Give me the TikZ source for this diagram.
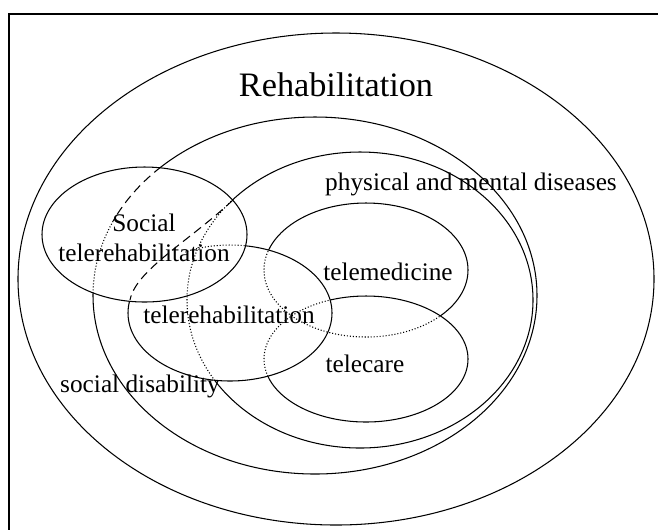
\documentclass[tikz,border=0pt]{standalone}
\usepackage{fontspec}
\setmainfont{Liberation Serif}
\usetikzlibrary{calc}

% the outlines (centre, x and y radius, in pixels)
\newcommand{\pathRehab}{(336,279) ellipse (318 and 246)}
\newcommand{\pathSocDis}{(315,295.5) ellipse (222 and 178.5)}
\newcommand{\pathPhys}{(360,300) ellipse (173 and 148)}
\newcommand{\pathSocTR}{(144.5,234.5) ellipse (102.5 and 67.5)}
\newcommand{\pathTR}{(230,313) ellipse (102 and 68)}
\newcommand{\pathTMed}{(366,270) ellipse (102 and 67)}
\newcommand{\pathTCare}{(366,359) ellipse (102 and 63)}
\newcommand{\pathAll}{(-10,-10) rectangle (670,540)}

\begin{document}
\begin{tikzpicture}[x=0.02cm,y=-0.02cm,line width=0.6pt,
        hidden/.style={dash pattern=on 0.6pt off 1.1pt},
        hiddash/.style={dash pattern=on 5pt off 3pt},
        txt/.style={font=\fontsize{14.4}{17}\selectfont,inner sep=0pt}]
        \useasboundingbox (0,0) rectangle (658,529);
        %frame
        \draw[line width=0.9pt] (9,14) rectangle (720,600);

        %outer and social telerehabilitation
        \draw \pathRehab;
        \draw \pathSocTR;

        %social disability
        \begin{scope}[even odd rule]
            \clip \pathAll \pathSocTR;
            \draw \pathSocDis;
        \end{scope}
        \begin{scope}
            \clip \pathSocTR;
            \clip (0,0) rectangle (658,220);
            \draw[hiddash] \pathSocDis;
        \end{scope}
        \begin{scope}
            \clip \pathSocTR;
            \clip (0,220) rectangle (658,529);
            \draw[hidden] \pathSocDis;
        \end{scope}

        %physical and mental diseases
        \begin{scope}[even odd rule]
            \clip \pathAll \pathSocTR;
            \clip \pathAll \pathTR;
            \draw \pathPhys;
        \end{scope}
        \begin{scope}
            \clip \pathSocTR;
            \draw[hidden] \pathPhys;
        \end{scope}
        \begin{scope}[even odd rule]
            \clip \pathAll \pathSocTR;
            \clip \pathTR;
            \draw[hidden] \pathPhys;
        \end{scope}
        \coordinate (physL) at (233,200);
        \coordinate (trL) at (130,300);
        \draw[hiddash] (physL) .. controls (188,242) and (136,270) .. (trL);

        %telerehabilitation
        \begin{scope}[even odd rule]
            \clip \pathAll \pathSocTR;
            \draw \pathTR;
        \end{scope}
        \begin{scope}
            \clip \pathSocTR;
            \clip (185,0) rectangle (658,529);
            \draw[hidden] \pathTR;
        \end{scope}

        %telecare
        \begin{scope}[even odd rule]
            \clip \pathAll \pathTR;
            \draw \pathTCare;
        \end{scope}
        \begin{scope}
            \clip \pathTR;
            \draw[hidden] \pathTCare;
        \end{scope}

        %telemedicine
        \begin{scope}[even odd rule]
            \clip \pathAll \pathTR;
            \clip \pathAll \pathTCare;
            \draw \pathTMed;
        \end{scope}
        \begin{scope}
            \clip \pathTR;
            \draw[hidden] \pathTMed;
        \end{scope}
        \begin{scope}[even odd rule]
            \clip \pathAll \pathTR;
            \clip \pathTCare;
            \draw[hidden] \pathTMed;
        \end{scope}

        %labels
        \node[txt,font=\fontsize{19.5}{23}\selectfont] (rehab) at (336,85) {Rehabilitation};
        \node[txt] (phys) at (471,184) {physical and mental diseases};
        \node[txt,align=center] (soctr) at (144,238) {Social\\telerehabilitation};
        \node[txt] (tr) at (229,315) {telerehabilitation};
        \node[txt] (tmed) at (388,272) {telemedicine};
        \node[txt] (tcare) at (365,364) {telecare};
        \node[txt] (socdis) at (140,386) {social disability};
\end{tikzpicture}
\end{document}
